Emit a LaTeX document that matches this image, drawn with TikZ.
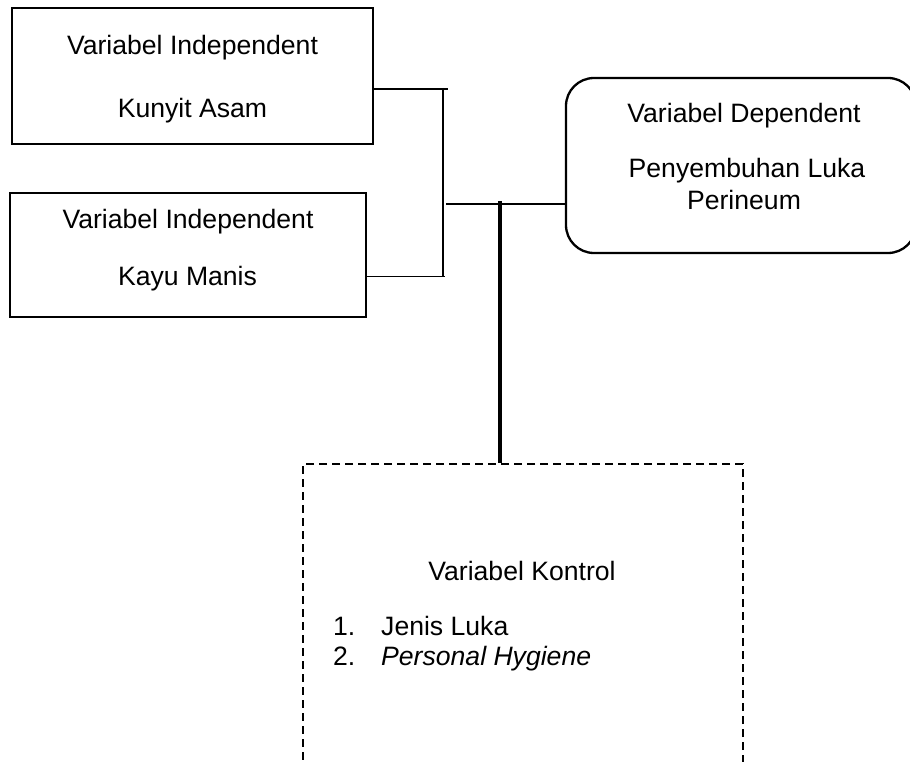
\documentclass[tikz,border=0pt]{standalone}
\usepackage{fontspec}
\setmainfont{Liberation Sans}
\begin{document}
\begin{tikzpicture}[x=1pt,y=-1pt,
  box/.style={draw,line width=2.3pt,inner sep=0pt},
  txt/.style={inner sep=0pt,font=\fontsize{26.6}{31}\selectfont},
  thinline/.style={line width=1.3pt},
  thickline/.style={line width=4pt}]
\useasboundingbox (0,0) rectangle (910,762);
\clip (0,0) rectangle (910,762);
% boxes
\node[box,minimum width=361pt,minimum height=136pt] (ind1) at (192.5,76) {};
\node[box,minimum width=356pt,minimum height=124pt] (ind2) at (188,255) {};
\node[box,rounded corners=28pt,minimum width=350pt,minimum height=175pt] (dep) at (741,165.5) {};
\node[box,line width=2.5pt,dash pattern=on 8pt off 5pt,minimum width=440pt,minimum height=340pt] (ctrl) at (523,634) {};
% texts
\node[txt,anchor=base] (t1a) at (192.5,55) {Variabel Independent};
\node[txt,anchor=base] (t1b) at (192.5,118) {Kunyit Asam};
\node[txt,anchor=base] (t2a) at (188,229) {Variabel Independent};
\node[txt,anchor=base] (t2b) at (187.5,285) {Kayu Manis};
\node[txt,anchor=base] (tda) at (744,123) {Variabel Dependent};
\node[txt,anchor=base] (tdb) at (747,178) {Penyembuhan Luka};
\node[txt,anchor=base] (tdc) at (744,210) {Perineum};
\node[txt,anchor=base] (tca) at (522,580) {Variabel Kontrol};
\node[txt,anchor=base west] (n1) at (333,635) {1.};
\node[txt,anchor=base west] (l1) at (381,635) {Jenis Luka};
\node[txt,anchor=base west] (n2) at (333,665) {2.};
\node[txt,anchor=base west] (l2) at (381,665) {\itshape Personal Hygiene};
% connectors
\coordinate (jt) at (443,88);
\coordinate (jb) at (443,277);
\coordinate (jm) at (446,204);
\coordinate (tp) at (500,201);
\draw[thinline] (ind1.east |- 0,89) -- (448,89);
\draw[thinline] (ind2.east |- 0,276.5) -- (445,276.5);
\draw[thinline] (jt) -- (jb);
\draw[thinline] (jm) -- (dep.west |- jm);
\draw[thickline] (tp) -- (ctrl.north -| tp);
\end{tikzpicture}
\end{document}
